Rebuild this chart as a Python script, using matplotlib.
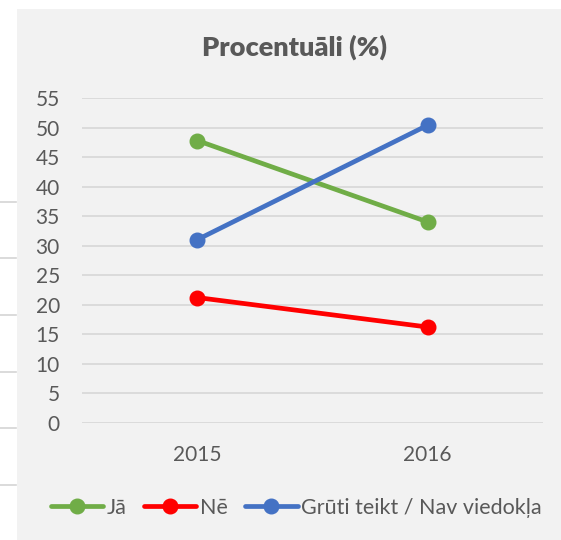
import matplotlib
matplotlib.use("Agg")
import matplotlib.pyplot as plt
from matplotlib.lines import Line2D
from matplotlib.patches import Rectangle

plt.rcParams['font.family'] = ['Lato', 'DejaVu Sans']

years = ["2015", "2016"]
series_names = ["Jā", "Nē", "Grūti teikt / Nav viedokļa"]
ja = [47.8, 34.0]
ne = [21.2, 16.2]
gruti = [31.0, 50.4]
colors = ["#70AD47", "#FF0000", "#4472C4"]
yticks = list(range(0, 56, 5))

W, H = 561, 540
fig = plt.figure(figsize=(W / 100, H / 100), dpi=100)
fig.patch.set_facecolor("white")

# chart area background
fig.patches.append(Rectangle((17 / W, 0), 1 - 17 / W, 1 - 9 / H, transform=fig.transFigure,
                             facecolor="#F2F2F2", edgecolor="none", zorder=-5))
# document table lines at left edge
for yy in [202, 258, 315, 372, 428, 485]:
    fig.add_artist(Line2D([0, 16 / W], [1 - yy / H, 1 - yy / H], transform=fig.transFigure,
                          color="#D4D4D4", lw=1.2, zorder=-4))

ax = fig.add_axes([82 / W, 1 - 422.7 / H, (543 - 82) / W, (422.7 - 98) / H])
ax.set_zorder(5)
ax.set_facecolor("none")
x = list(range(len(years)))
for vals, c, name in zip([ja, ne, gruti], colors, series_names):
    ax.plot(x, vals, color=c, lw=3.4, marker="o", markersize=10.5, label=name,
            solid_capstyle="round", zorder=3)

ax.set_xlim(-0.5, 1.5)
ax.set_ylim(0, 55)
ax.set_yticks(yticks)
ax.set_xticks(x)
ax.set_xticklabels(years)
ax.yaxis.grid(True, color="#D9D9D9", lw=1.3)
ax.set_axisbelow(True)
for s in ax.spines.values():
    s.set_visible(False)
ax.tick_params(axis="both", length=0, labelsize=15, colors="#595959")
ax.tick_params(axis="y", pad=16)
ax.tick_params(axis="x", pad=16)

fig.text(295 / W, 1 - 47 / H, "Procentuāli (%)", ha="center", va="center",
         fontsize=19.5, fontweight="heavy", color="#595959")

handles, labels = ax.get_legend_handles_labels()
leg = fig.legend(handles, labels, loc="center", bbox_to_anchor=(296 / W, 1 - 508 / H), ncol=3,
                 frameon=False, fontsize=15.5, handlelength=2.45, handletextpad=0.15,
                 columnspacing=0.8, labelcolor="#595959")
leg.set_zorder(6)

fig.savefig("out.png", dpi=100, facecolor="white")
